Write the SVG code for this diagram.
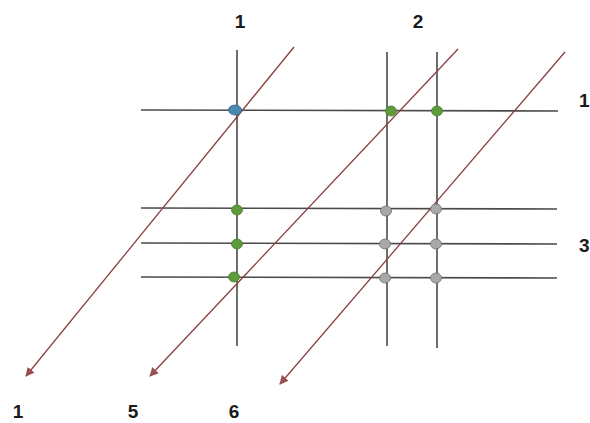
<svg xmlns="http://www.w3.org/2000/svg" width="590" height="423" viewBox="0 0 590 423">
<style>
.g{stroke:#4a4a4a;stroke-width:1.6;fill:none}
.d{stroke:#8a4040;stroke-width:1.3;fill:none;marker-end:url(#ah)}
.lb{font-family:"Liberation Sans",Arial,sans-serif;font-weight:bold;font-size:19px;fill:#1a1a1a;text-anchor:middle}
.rs{text-anchor:start}
.gr{fill:#5e9a3c;stroke:#4b7f30;stroke-width:0.8}
.gy{fill:#a8a8a8;stroke:#707070;stroke-width:0.8}
.bl{fill:#4a8ab0;stroke:#2f6a90;stroke-width:0.8}
</style>
<defs>
<marker id="ah" viewBox="0 0 10 10" refX="9" refY="5" markerWidth="9" markerHeight="9" markerUnits="userSpaceOnUse" orient="auto">
<path d="M0,0 L10,5 L0,10 z" fill="#9a5050"/>
</marker>
</defs>
<rect width="590" height="423" fill="#fff"/>
<g id="grid">
<line class="g" x1="237" y1="50" x2="237" y2="346"/>
<line class="g" x1="387" y1="52" x2="387" y2="346"/>
<line class="g" x1="437" y1="52" x2="437" y2="348"/>
<line class="g" x1="141" y1="110" x2="558" y2="111"/>
<line class="g" x1="141" y1="208" x2="557" y2="209"/>
<line class="g" x1="141" y1="243" x2="557" y2="244"/>
<line class="g" x1="141" y1="277" x2="557" y2="278"/>
</g>
<g id="connectors">
<line class="d" x1="294" y1="47" x2="26" y2="376"/>
<line class="d" x1="458" y1="49" x2="150" y2="376"/>
<line class="d" x1="565" y1="52" x2="280" y2="384"/>
</g>
<g id="dots">
<ellipse class="bl" cx="235" cy="110" rx="6.5" ry="5"/>
<ellipse class="gr" cx="391" cy="111" rx="5.5" ry="5"/>
<ellipse class="gr" cx="437" cy="111" rx="5.5" ry="5"/>
<ellipse class="gr" cx="237" cy="210" rx="5.5" ry="5"/>
<ellipse class="gr" cx="237" cy="244" rx="5.5" ry="5"/>
<ellipse class="gr" cx="234" cy="277" rx="5.5" ry="5"/>
<ellipse class="gy" cx="386" cy="211" rx="5.5" ry="5"/>
<ellipse class="gy" cx="436" cy="209" rx="5.5" ry="5"/>
<ellipse class="gy" cx="385" cy="244" rx="5.5" ry="5"/>
<ellipse class="gy" cx="436" cy="244" rx="5.5" ry="5"/>
<ellipse class="gy" cx="385" cy="278" rx="5.5" ry="5"/>
<ellipse class="gy" cx="436" cy="278" rx="5.5" ry="5"/>
</g>
<g id="labels">
<text class="lb" x="240" y="28">1</text>
<text class="lb" x="418" y="28">2</text>
<text class="lb rs" x="579" y="107">1</text>
<text class="lb rs" x="579" y="252">3</text>
<text class="lb" x="18" y="418">1</text>
<text class="lb" x="133" y="418">5</text>
<text class="lb" x="234" y="418">6</text>
</g>
</svg>
